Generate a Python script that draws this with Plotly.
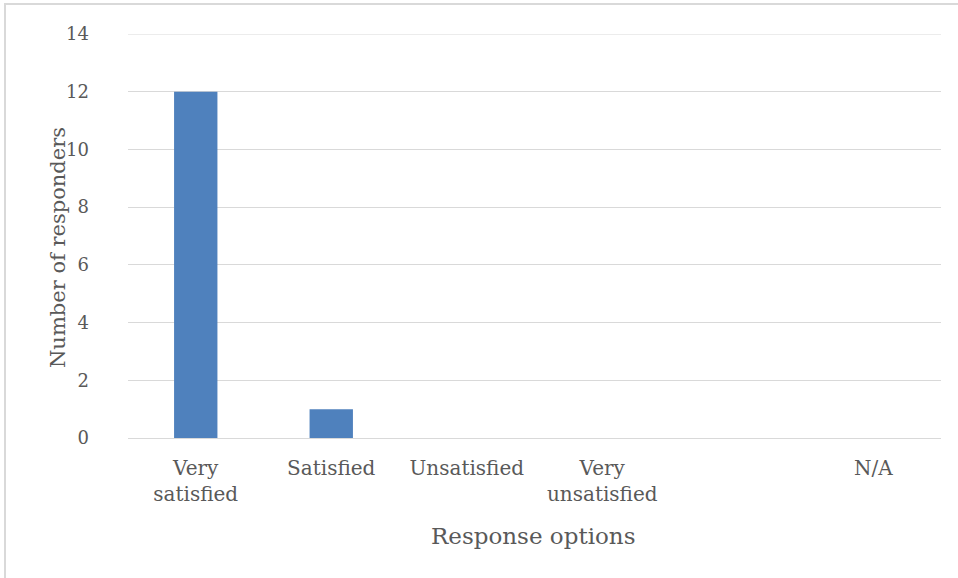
import plotly.graph_objects as go

categories = ["Very<br>satisfied", "Satisfied", "Unsatisfied", "Very<br>unsatisfied", " ", "N/A"]
responders = [12, 1, 0, 0, 0, 0]
y_ticks = [0, 2, 4, 6, 8, 10, 12, 14]

W, H = 958, 578
L, R, T, B = 128, 17, 34, 140
pw, ph = W - L - R, H - T - B

def px_x(p):
    return (p - L) / pw

def px_y(p):
    return (H - B - p) / ph

font_family = "DejaVu Serif"
grey = "#595959"
grid = "#d9d9d9"

fig = go.Figure()
fig.add_trace(go.Bar(x=categories, y=responders, marker_color="#4f81bd",
                     marker_line_width=0))

fig.update_layout(
    width=W, height=H,
    margin=dict(l=L, r=R, t=T, b=B, pad=0),
    paper_bgcolor="white", plot_bgcolor="white",
    bargap=0.68,
    showlegend=False,
    font=dict(family=font_family, color=grey, size=18),
    xaxis=dict(
        type="category",
        showgrid=False,
        showline=True, linecolor=grid, linewidth=1,
        ticks="", tickfont=dict(size=20, color=grey),
        ticklabelstandoff=12,
    ),
    yaxis=dict(
        range=[0, max(y_ticks)],
        tickvals=y_ticks,
        showgrid=True, gridcolor=grid, gridwidth=1,
        zeroline=False,
        ticks="", tickfont=dict(size=18, color=grey),
        ticklabelstandoff=38,
    ),
    annotations=[
        dict(text="Response options", xref="paper", yref="paper",
             x=px_x(533), y=px_y(536), showarrow=False,
             xanchor="center", yanchor="middle",
             font=dict(size=23, color=grey, family=font_family)),
        dict(text="Number of responders", xref="paper", yref="paper",
             x=px_x(58), y=px_y(248), showarrow=False, textangle=-90,
             xanchor="center", yanchor="middle",
             font=dict(size=21, color=grey, family=font_family)),
    ],
    shapes=[
        dict(type="rect", xref="paper", yref="paper",
             x0=px_x(5), x1=px_x(975), y0=px_y(600), y1=px_y(4),
             line=dict(color=grid, width=2), fillcolor="rgba(0,0,0,0)",
             layer="below"),
        dict(type="line", xref="paper", yref="y",
             x0=0, x1=1, y0=max(y_ticks), y1=max(y_ticks),
             line=dict(color=grid, width=1), layer="below"),
    ],
)

fig.write_html("out.html")
